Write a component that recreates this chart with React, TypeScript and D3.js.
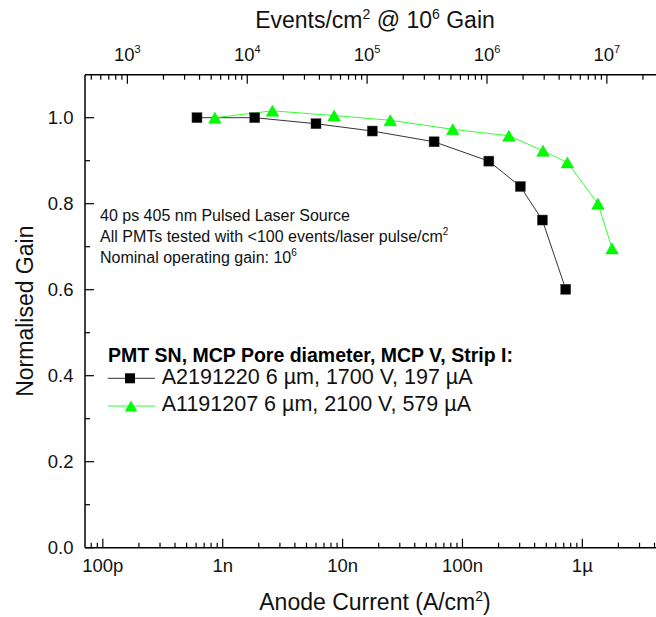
import React from "react";
import * as d3 from "d3";

// ---- data ----
const currentTicks = [1e-10, 1e-9, 1e-8, 1e-7, 1e-6];
const currentTickLabels = ["100p", "1n", "10n", "100n", "1µ"];
const eventTicks = [1e3, 1e4, 1e5, 1e6, 1e7];
const eventTickExponents = ["3", "4", "5", "6", "7"];
const gainTicks = [0, 0.2, 0.4, 0.6, 0.8, 1.0];
const gainMinorTicks = [0.1, 0.3, 0.5, 0.7, 0.9];

const seriesNames = [
  "A2191220 6 µm, 1700 V, 197 µA",
  "A1191207 6 µm, 2100 V, 579 µA",
];
const seriesACurrent = [6.1e-10, 1.85e-9, 6.0e-9, 1.77e-8, 5.8e-8, 1.66e-7, 3.04e-7, 4.64e-7, 7.27e-7];
const seriesAGain = [1.0, 1.0, 0.986, 0.969, 0.944, 0.899, 0.84, 0.762, 0.601];
const seriesBCurrent = [8.6e-10, 2.6e-9, 8.5e-9, 2.5e-8, 8.3e-8, 2.44e-7, 4.7e-7, 7.5e-7, 1.35e-6, 1.77e-6];
const seriesBGain = [1.0, 1.016, 1.005, 0.994, 0.973, 0.958, 0.923, 0.896, 0.8, 0.696];

const annotationLines = [
  { text: "40 ps 405 nm Pulsed Laser Source", sup: "" },
  { text: "All PMTs tested with <100 events/laser pulse/cm", sup: "2" },
  { text: "Nominal operating gain: 10", sup: "6" },
];
const legendTitle = "PMT SN, MCP Pore diameter, MCP V, Strip I:";

// conversion: events/cm^2 at 1e6 gain = current / (e * gain)
const chargePerEvent = 1.602e-19 * 1e6;

const W = 656;
const H = 617;
const FONT = "'Liberation Sans', Arial, Helvetica, sans-serif";

const margin = { left: 85, right: 664, top: 74.7, bottom: 547.7 };

export default function App() {
  const x = d3.scaleLog().domain([7.1e-11, 4.8e-6]).range([margin.left, margin.right]);
  const xTop = d3
    .scaleLog()
    .domain(x.domain().map((d) => d / chargePerEvent))
    .range([margin.left, margin.right]);
  const y = d3.scaleLinear().domain([0, 1.1]).range([margin.bottom, margin.top]);

  const [x0, x1] = x.domain();
  const minorBottom: number[] = [];
  for (let e = -11; e <= -5; e++) {
    for (let k = 2; k <= 9; k++) {
      const v = k * Math.pow(10, e);
      if (v > x0 && v < x1) minorBottom.push(v);
    }
  }
  const [t0, t1] = xTop.domain();
  const minorTop: number[] = [];
  for (let e = 2; e <= 8; e++) {
    for (let k = 2; k <= 9; k++) {
      const v = k * Math.pow(10, e);
      if (v > t0 && v < t1) minorTop.push(v);
    }
  }

  const line = d3
    .line<[number, number]>()
    .x((d) => x(d[0]))
    .y((d) => y(d[1]));
  const dataA: [number, number][] = seriesACurrent.map((c, i) => [c, seriesAGain[i]]);
  const dataB: [number, number][] = seriesBCurrent.map((c, i) => [c, seriesBGain[i]]);

  const sq = 10;
  const triPath = (cx: number, cy: number) => {
    const w = 12.5, h = 11;
    return `M${cx},${cy - h / 2}L${cx + w / 2},${cy + h / 2}L${cx - w / 2},${cy + h / 2}Z`;
  };

  const green = "#00ff00";
  const MAJ = 9, MIN = 5;

  return (
    <div style={{ position: "absolute", left: 0, top: 0 }}>
      <svg width={W} height={H} style={{ display: "block", background: "#fff" }} fontFamily={FONT}>
        <rect x={0} y={0} width={W} height={H} fill="#fff" />
        {/* frame */}
        <line x1={margin.left} x2={margin.right} y1={margin.top} y2={margin.top} stroke="#000" strokeWidth={1.5} />
        <line x1={margin.left} x2={margin.right} y1={margin.bottom} y2={margin.bottom} stroke="#000" strokeWidth={1.5} />
        <line x1={margin.left} x2={margin.left} y1={margin.top} y2={margin.bottom} stroke="#000" strokeWidth={1.5} />

        {/* bottom ticks */}
        {currentTicks.map((t, i) => (
          <g key={"bt" + i}>
            <line x1={x(t)} x2={x(t)} y1={margin.bottom} y2={margin.bottom - MAJ} stroke="#000" strokeWidth={1.2} />
            <text x={x(t)} y={571.5} textAnchor="middle" fontSize={18.5} fill="#111">
              {currentTickLabels[i]}
            </text>
          </g>
        ))}
        {minorBottom.map((t, i) => (
          <line key={"bm" + i} x1={x(t)} x2={x(t)} y1={margin.bottom} y2={margin.bottom - MIN} stroke="#000" strokeWidth={1.2} />
        ))}

        {/* top ticks */}
        {eventTicks.map((t, i) => (
          <g key={"tt" + i}>
            <line x1={xTop(t)} x2={xTop(t)} y1={margin.top} y2={margin.top + MAJ} stroke="#000" strokeWidth={1.2} />
            <text x={xTop(t)} y={61} textAnchor="middle" fontSize={18.5} fill="#111">
              10
              <tspan dy={-8} fontSize={11}>
                {eventTickExponents[i]}
              </tspan>
            </text>
          </g>
        ))}
        {minorTop.map((t, i) => (
          <line key={"tm" + i} x1={xTop(t)} x2={xTop(t)} y1={margin.top} y2={margin.top + MIN} stroke="#000" strokeWidth={1.2} />
        ))}

        {/* left ticks */}
        {gainTicks.map((t, i) => (
          <g key={"lt" + i}>
            <line x1={margin.left} x2={margin.left + MAJ} y1={y(t)} y2={y(t)} stroke="#000" strokeWidth={1.2} />
            <text x={73.5} y={y(t) + 6.5} textAnchor="end" fontSize={18.5} fill="#111">
              {t.toFixed(1)}
            </text>
          </g>
        ))}
        {gainMinorTicks.map((t, i) => (
          <line key={"lm" + i} x1={margin.left} x2={margin.left + MIN} y1={y(t)} y2={y(t)} stroke="#000" strokeWidth={1.2} />
        ))}

        {/* axis titles */}
        <text x={375} y={28} textAnchor="middle" fontSize={23} fill="#111">
          Events/cm
          <tspan dy={-9} fontSize={14}>2</tspan>
          <tspan dy={9}> @ 10</tspan>
          <tspan dy={-9} fontSize={14}>6</tspan>
          <tspan dy={9}> Gain</tspan>
        </text>
        <text x={375} y={610} textAnchor="middle" fontSize={23} fill="#111">
          Anode Current (A/cm
          <tspan dy={-9} fontSize={14}>2</tspan>
          <tspan dy={9}>)</tspan>
        </text>
        <text transform={`translate(33,${(margin.top + margin.bottom) / 2}) rotate(-90)`} textAnchor="middle" fontSize={23} fill="#111">
          Normalised Gain
        </text>

        {/* annotation */}
        {annotationLines.map((l, i) => (
          <text key={"an" + i} x={100} y={221 + i * 21.2} fontSize={16} fill="#111">
            {l.text}
            {l.sup && (
              <tspan dy={-7} fontSize={10}>
                {l.sup}
              </tspan>
            )}
          </text>
        ))}

        {/* series */}
        <path d={line(dataA) || ""} fill="none" stroke="#333" strokeWidth={1} />
        <path d={line(dataB) || ""} fill="none" stroke="#33ff33" strokeWidth={1} />
        {dataA.map((d, i) => (
          <rect key={"a" + i} x={x(d[0]) - sq / 2} y={y(d[1]) - sq / 2} width={sq} height={sq} fill="#000" stroke="#444" strokeWidth={0.5} />
        ))}
        {dataB.map((d, i) => (
          <path key={"b" + i} d={triPath(x(d[0]), y(d[1]))} fill={green} stroke="#00dd00" strokeWidth={0.5} />
        ))}

        {/* legend */}
        <text x={108} y={361.5} fontSize={19.5} fontWeight="bold" fill="#000">
          {legendTitle}
        </text>
        <line x1={107.7} x2={155} y1={378.3} y2={378.3} stroke="#333" strokeWidth={1} />
        <rect x={130 - sq / 2} y={378.3 - sq / 2} width={sq} height={sq} fill="#000" />
        <text x={161.7} y={383.5} fontSize={21.5} fill="#111">
          {seriesNames[0]}
        </text>
        <line x1={107.7} x2={155} y1={406} y2={406} stroke="#33ff33" strokeWidth={1} />
        <path d={triPath(131, 406)} fill={green} />
        <text x={161.7} y={411.2} fontSize={21.5} fill="#111">
          {seriesNames[1]}
        </text>
      </svg>
    </div>
  );
}
